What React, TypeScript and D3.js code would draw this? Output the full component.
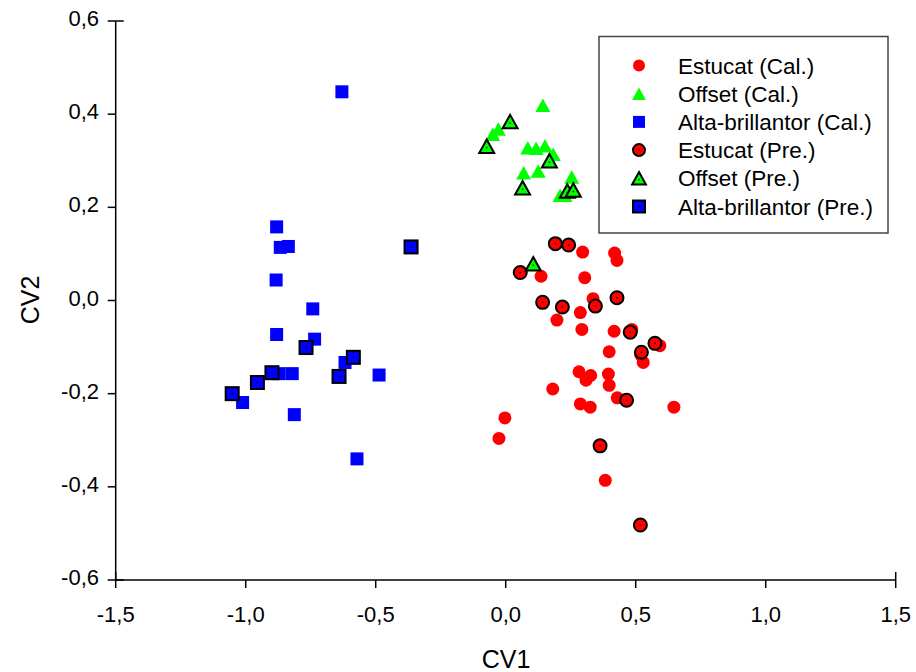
import { useRef, useEffect } from "react";
import * as d3 from "d3";

// CV1 / CV2 scores
const estucatCalX = [0.296, 0.419, 0.428, 0.136, 0.304, 0.336, 0.287, 0.197, 0.293, 0.417, 0.485, 0.593, 0.519, 0.529, 0.398, 0.282, 0.327, 0.309, 0.395, 0.398, 0.181, 0.287, 0.325, 0.429, 0.647, -0.003, -0.026, 0.383];
const estucatCalY = [0.104, 0.102, 0.086, 0.052, 0.049, 0.004, -0.026, -0.042, -0.062, -0.066, -0.062, -0.097, -0.116, -0.133, -0.11, -0.153, -0.161, -0.171, -0.158, -0.182, -0.19, -0.222, -0.229, -0.209, -0.229, -0.252, -0.296, -0.386];

const offsetCalX = [0.143, -0.028, -0.05, 0.085, 0.117, 0.151, 0.183, 0.069, 0.125, 0.254, 0.209, 0.228];
const offsetCalY = [0.419, 0.368, 0.357, 0.328, 0.327, 0.332, 0.314, 0.274, 0.278, 0.265, 0.226, 0.226];

const altaCalX = [-0.63, -0.881, -0.867, -0.836, -0.883, -0.742, -0.881, -0.735, -0.618, -0.487, -0.871, -0.821, -1.012, -0.813, -0.572];
const altaCalY = [0.448, 0.158, 0.114, 0.116, 0.044, -0.018, -0.073, -0.083, -0.133, -0.16, -0.157, -0.157, -0.219, -0.245, -0.34];

const estucatPreX = [0.191, 0.242, 0.056, 0.142, 0.218, 0.345, 0.428, 0.479, 0.574, 0.522, 0.465, 0.363, 0.518];
const estucatPreY = [0.122, 0.119, 0.06, -0.004, -0.014, -0.012, 0.006, -0.068, -0.092, -0.111, -0.214, -0.312, -0.482];

const offsetPreX = [0.017, -0.073, 0.168, 0.065, 0.237, 0.26, 0.106];
const offsetPreY = [0.384, 0.331, 0.3, 0.242, 0.235, 0.237, 0.079];

const altaPreX = [-0.364, -0.768, -0.586, -0.641, -0.899, -0.955, -1.052];
const altaPreY = [0.115, -0.101, -0.122, -0.163, -0.155, -0.176, -0.2];

const xTicks = [-1.5, -1.0, -0.5, 0.0, 0.5, 1.0, 1.5];
const yTicks = [-0.6, -0.4, -0.2, 0.0, 0.2, 0.4, 0.6];

const series = [
  { name: "Estucat (Cal.)", shape: "circle", color: "#ff0000", pre: false, xs: estucatCalX, ys: estucatCalY },
  { name: "Offset (Cal.)", shape: "triangle", color: "#00ff00", pre: false, xs: offsetCalX, ys: offsetCalY },
  { name: "Alta-brillantor (Cal.)", shape: "square", color: "#0000ff", pre: false, xs: altaCalX, ys: altaCalY },
  { name: "Estucat (Pre.)", shape: "circle", color: "#ff0000", pre: true, xs: estucatPreX, ys: estucatPreY },
  { name: "Offset (Pre.)", shape: "triangle", color: "#00ff00", pre: true, xs: offsetPreX, ys: offsetPreY },
  { name: "Alta-brillantor (Pre.)", shape: "square", color: "#0000ff", pre: true, xs: altaPreX, ys: altaPreY },
];

const FONT = "'Liberation Sans', Arial, sans-serif";
const comma = (v: number) => v.toFixed(1).replace(".", ",");

function drawMarker(g: any, shape: string, color: string, pre: boolean, cx: number, cy: number, scale = 1) {
  const stroke = pre ? "#000" : "none";
  const sw = pre ? 2 : 0;
  if (shape === "circle") {
    g.append("circle").attr("cx", cx).attr("cy", cy).attr("r", 6.5 * scale)
      .attr("fill", color).attr("stroke", stroke).attr("stroke-width", sw);
  } else if (shape === "square") {
    const s = 13 * scale;
    g.append("rect").attr("x", cx - s / 2).attr("y", cy - s / 2).attr("width", s).attr("height", s)
      .attr("fill", color).attr("stroke", stroke).attr("stroke-width", sw);
  } else {
    const w = 15 * scale, h = 13.5 * scale;
    g.append("path")
      .attr("d", `M${cx},${cy - h / 2}L${cx + w / 2},${cy + h / 2}L${cx - w / 2},${cy + h / 2}Z`)
      .attr("fill", color).attr("stroke", stroke).attr("stroke-width", sw).attr("stroke-linejoin", "miter");
  }
  // SigmaPlot leaves a tiny dot in the middle of outlined symbols
  if (pre) g.append("circle").attr("cx", cx).attr("cy", cy + (shape === "triangle" ? 1.5 : 0)).attr("r", 0.8).attr("fill", "#000");
}

export default function App() {
  const svgRef = useRef<SVGSVGElement>(null);

  useEffect(() => {
    if (!svgRef.current) return;
    const width = 916;
    const height = 672;
    const svg = d3.select(svgRef.current);
    svg.attr("viewBox", `0 0 ${width} ${height}`);
    svg.selectAll("*").remove();

    const x = d3.scaleLinear().domain([-1.5, 1.5]).range([115.7, 895.7]);
    const y = d3.scaleLinear().domain([-0.6, 0.6]).range([580, 21]);

    svg.append("rect").attr("width", width).attr("height", height).attr("fill", "#fff");

    // Points: calibration sets first, prediction sets on top
    const pts = svg.append("g");
    series.forEach((s) => {
      s.xs.forEach((xv, i) => drawMarker(pts, s.shape, s.color, s.pre, x(xv), y(s.ys[i])));
    });

    // Axes
    const axes = svg.append("g").attr("stroke", "#000").attr("stroke-width", 1.5);
    axes.append("line").attr("x1", x(-1.5)).attr("x2", x(1.5)).attr("y1", y(-0.6)).attr("y2", y(-0.6));
    axes.append("line").attr("x1", x(-1.5)).attr("x2", x(-1.5)).attr("y1", y(-0.6)).attr("y2", y(0.6));

    xTicks.forEach((t, i) => {
      const end = i === 0 || i === xTicks.length - 1;
      axes.append("line").attr("x1", x(t)).attr("x2", x(t))
        .attr("y1", y(-0.6) - (end ? 8 : 0)).attr("y2", y(-0.6) + 8);
      svg.append("text").attr("x", x(t)).attr("y", y(-0.6) + 42)
        .attr("text-anchor", "middle").attr("font-family", FONT).attr("font-size", "22px")
        .attr("fill", "#000").text(comma(t));
    });

    yTicks.forEach((t, i) => {
      const end = i === 0 || i === yTicks.length - 1;
      axes.append("line").attr("x1", x(-1.5) - 8).attr("x2", x(-1.5) + (end ? 8 : 0))
        .attr("y1", y(t)).attr("y2", y(t));
      svg.append("text").attr("x", 99).attr("y", y(t) + 5)
        .attr("text-anchor", "end").attr("font-family", FONT).attr("font-size", "22px")
        .attr("fill", "#000").text(comma(t));
    });

    // Axis titles
    svg.append("text").attr("x", 506).attr("y", 668).attr("text-anchor", "middle")
      .attr("font-family", FONT).attr("font-size", "25px").attr("fill", "#000").text("CV1");
    svg.append("text").attr("transform", "translate(39,300) rotate(-90)").attr("text-anchor", "middle")
      .attr("font-family", FONT).attr("font-size", "25px").attr("fill", "#000").text("CV2");

    // Legend
    const lg = svg.append("g");
    lg.append("rect").attr("x", 599).attr("y", 36.5).attr("width", 289).attr("height", 196.5)
      .attr("fill", "#fff").attr("stroke", "#444").attr("stroke-width", 1.5);
    series.forEach((s, i) => {
      const ly = 65.5 + i * 28.2;
      drawMarker(lg, s.shape, s.color, s.pre, 639, ly, 0.92);
      lg.append("text").attr("x", 678).attr("y", ly + 8)
        .attr("font-family", FONT).attr("font-size", "22.5px").attr("fill", "#000").text(s.name);
    });
  }, []);

  return (
    <div style={{ position: "absolute", left: 0, top: 0, width: 916, height: 672 }}>
      <svg ref={svgRef} width={916} height={672} style={{ display: "block" }} />
    </div>
  );
}
